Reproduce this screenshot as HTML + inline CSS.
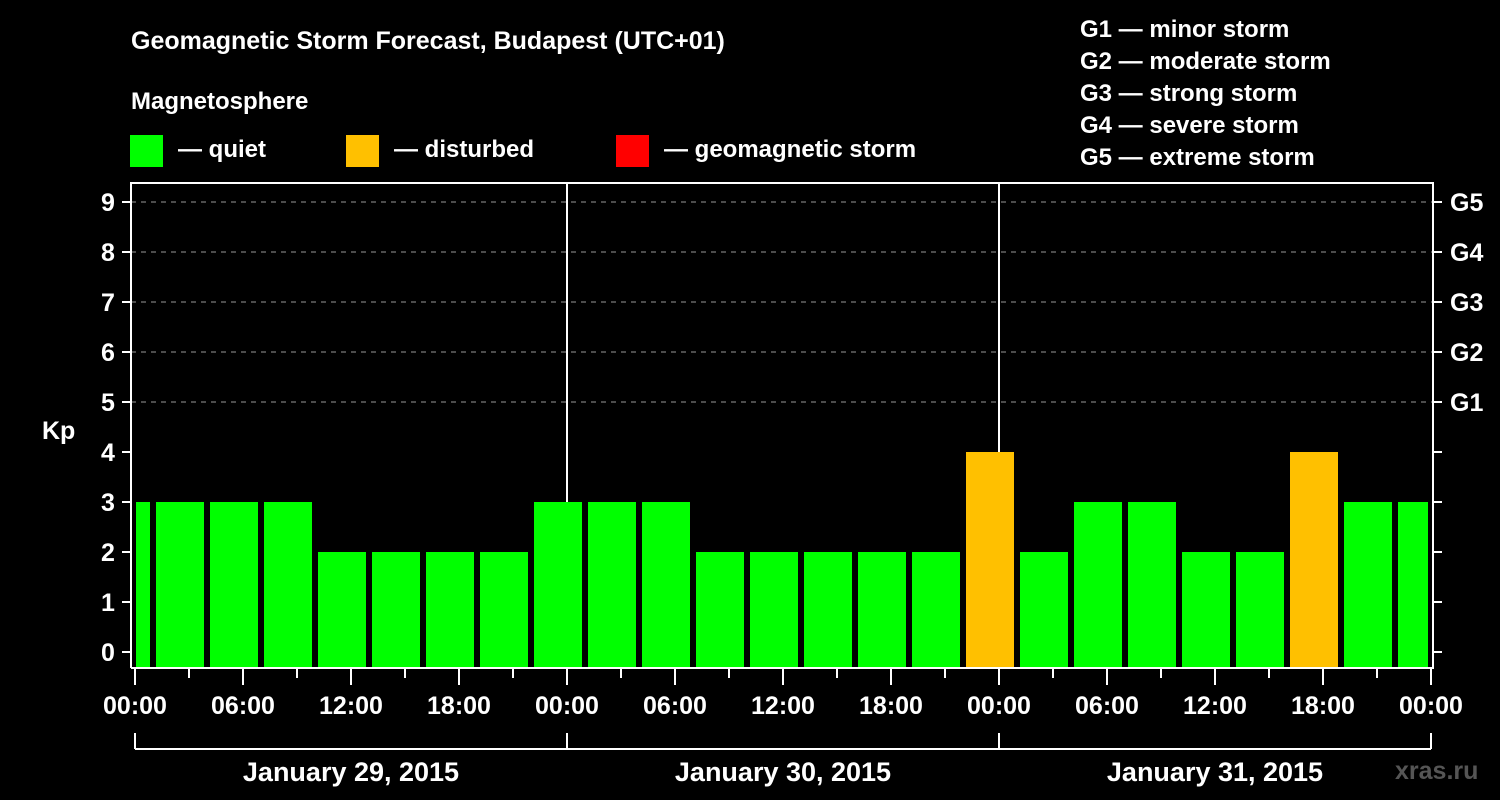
<!DOCTYPE html>
<html><head><meta charset="utf-8"><style>
html,body{margin:0;padding:0;background:#000;}
svg{display:block;}
text{font-family:"Liberation Sans",Arial,sans-serif;font-weight:bold;fill:#fff;}
</style></head><body>
<svg id="chart" width="1500" height="800" viewBox="0 0 1500 800" xmlns="http://www.w3.org/2000/svg">
<rect width="1500" height="800" fill="#000"/>
<text x="131" y="49" font-size="25">Geomagnetic Storm Forecast, Budapest (UTC+01)</text>
<text x="131" y="109" font-size="24">Magnetosphere</text>
<g><rect x="130" y="135" width="33" height="32" fill="#00ff00"/><text x="178" y="157" font-size="24">— quiet</text></g>
<g><rect x="346" y="135" width="33" height="32" fill="#ffc000"/><text x="394" y="157" font-size="24">— disturbed</text></g>
<g><rect x="616" y="135" width="33" height="32" fill="#ff0000"/><text x="664" y="157" font-size="24">— geomagnetic storm</text></g>
<g font-size="24">
<text x="1080" y="37">G1 — minor storm</text>
<text x="1080" y="69">G2 — moderate storm</text>
<text x="1080" y="101">G3 — strong storm</text>
<text x="1080" y="133">G4 — severe storm</text>
<text x="1080" y="165">G5 — extreme storm</text>
</g>
<g id="grid"></g>
<g id="bars"></g>
<g id="axes"></g>
<text x="42" y="439" font-size="25">Kp</text>
<text x="1395" y="779" font-size="25" fill="#444" style="fill:#555">xras.ru</text>
</svg>
<script>
const kpValues=[3,3,3,3,2,2,2,2,3,3,3,2,2,2,2,2,4,2,3,3,2,2,4,3,3];
const barStartHours=[-2,1,4,7,10,13,16,19,22,25,28,31,34,37,40,43,46,49,52,55,58,61,64,67,70];
const kpTicks=[0,1,2,3,4,5,6,7,8,9];
const gLabels=["G1","G2","G3","G4","G5"];
const hourLabels=["00:00","06:00","12:00","18:00","00:00","06:00","12:00","18:00","00:00","06:00","12:00","18:00","00:00"];
const dayLabels=["January 29, 2015","January 30, 2015","January 31, 2015"];
const NS="http://www.w3.org/2000/svg";
const L=131,R=1433,T=183,B=668;
const x=h=>135+h*18;
const y=k=>652-k*50;
function mk(tag,attrs,parent,txt){const e=document.createElementNS(NS,tag);for(const k in attrs)e.setAttribute(k,attrs[k]);if(txt!==undefined)e.textContent=txt;parent.appendChild(e);return e;}
const grid=document.getElementById('grid'),bars=document.getElementById('bars'),axes=document.getElementById('axes');
for(let k=5;k<=9;k++){const g=mk('line',{x1:L,x2:R,y1:y(k),y2:y(k),stroke:'#999','stroke-width':1,'stroke-dasharray':'5,5'},grid);

}
for(let d=1;d<3;d++){const v=mk('line',{x1:x(d*24),x2:x(d*24),y1:T,y2:B,stroke:'#fff','stroke-width':2},grid);

}
kpValues.forEach((v,i)=>{
 let x0=Math.max(x(barStartHours[i])+3,136),x1=Math.min(x(barStartHours[i]+3)-3,1428);
 const r=mk('rect',{x:x0,y:y(v),width:x1-x0,height:B-y(v),fill:v>=5?'#ff0000':(v>=4?'#ffc000':'#00ff00')},bars);
 
 
});
const frame=mk('path',{d:`M${L} ${B}V${T}H${R}V${B}H${L}`,stroke:'#fff','stroke-width':2,fill:'none'},axes);


kpTicks.forEach(k=>{
 mk('line',{x1:122,x2:L,y1:y(k),y2:y(k),stroke:'#fff','stroke-width':2},axes);
 mk('line',{x1:R,x2:1442,y1:y(k),y2:y(k),stroke:'#fff','stroke-width':2},axes);
 const t=mk('text',{x:108,y:y(k)+9,'font-size':25,'text-anchor':'middle'},axes,String(k));
 
 
});
gLabels.forEach((g,i)=>{const t=mk('text',{x:1450,y:y(5+i)+9,'font-size':25},axes,g);
 
 });
for(let h=0;h<=72;h+=3){mk('line',{x1:x(h),x2:x(h),y1:B,y2:h%6===0?685:678,stroke:'#fff','stroke-width':2},axes);}
hourLabels.forEach((s,i)=>{const t=mk('text',{x:x(i*6),y:714,'font-size':25,'text-anchor':'middle'},axes,s);
 
 });
mk('line',{x1:x(0),x2:x(72),y1:749,y2:749,stroke:'#fff','stroke-width':2},axes);
for(let d=0;d<=3;d++)mk('line',{x1:x(d*24),x2:x(d*24),y1:733,y2:749,stroke:'#fff','stroke-width':2},axes);
dayLabels.forEach((s,i)=>{const t=mk('text',{x:x(i*24+12),y:781,'font-size':27,'text-anchor':'middle'},axes,s);
 
 });
</script>
</body></html>
